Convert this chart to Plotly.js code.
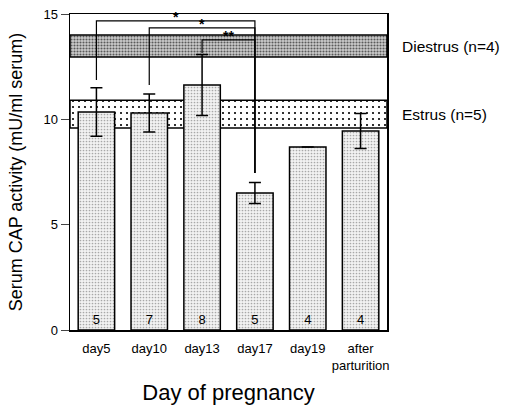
<!DOCTYPE html>
<html>
<head>
<meta charset="utf-8">
<script src="https://cdn.plot.ly/plotly-3.0.1.min.js"></script>
<style>html,body{margin:0;padding:0;background:#fff;}#chart{width:505px;height:416px;}</style>
</head>
<body>
<div id="chart"></div>
<script>
// ---- data ----
const categories = ['day5', 'day10', 'day13', 'day17', 'day19', 'after<br>parturition'];
const meanActivity = [10.35, 10.30, 11.63, 6.50, 8.69, 9.45];
const errActivity = [1.15, 0.90, 1.45, 0.50, null, 0.83];
const nCounts = ['5', '7', '8', '5', '4', '4'];

const cycleStages = ['Diestrus (n=4)', 'Estrus (n=5)'];
const cycleMean = [13.48, 10.25];
const cycleSd = [0.52, 0.66];

const bracketFrom = ['day5', 'day10', 'day13'];
const bracketTo = 'day17';
const bracketFromBase = [11.87, 11.63, 13.15];
const bracketToBase = 7.45;
const bracketHeights = [14.67, 14.34, 13.77];
const bracketLabels = ['*', '*', '**'];

// ---- build ----
const FONT = '"Liberation Sans", Arial, Helvetica, sans-serif';
const xlo = -0.5, xhi = categories.length - 0.5;
const stageStyles = [
  {shape: '.', bgcolor: '#cdcdcd', fgcolor: '#5a5a5a', size: 3, solidity: 0.4},
  {shape: '.', bgcolor: '#ffffff', fgcolor: '#000000', size: 6, solidity: 0.1}
];

const traces = [];
cycleStages.forEach((s, i) => {
  const lo = cycleMean[i] - cycleSd[i], hi = cycleMean[i] + cycleSd[i];
  traces.push({
    type: 'scatter', mode: 'lines', name: s, xaxis: 'x', yaxis: 'y',
    x: [xlo, xhi, xhi, xlo, xlo], y: [lo, lo, hi, hi, lo],
    fill: 'toself', fillcolor: stageStyles[i].bgcolor,
    fillpattern: stageStyles[i],
    line: {color: '#000', width: 1.5}, hoverinfo: 'skip', showlegend: false
  });
});

traces.push({
  type: 'bar', xaxis: 'x2', yaxis: 'y',
  x: categories, y: meanActivity,
  marker: {
    color: '#efefef',
    pattern: {shape: '.', bgcolor: '#f2f2f2', fgcolor: '#a8a8a8', size: 3, solidity: 0.25},
    line: {color: '#000', width: 1.5}
  },
  error_y: {type: 'data', array: errActivity, visible: true, color: '#000', thickness: 1.5, width: 6},
  text: nCounts, textposition: 'inside', insidetextanchor: 'start', textangle: 0,
  insidetextfont: {family: FONT, size: 13, color: '#000'},
  showlegend: false
});

bracketFrom.forEach((c, i) => {
  traces.push({
    type: 'scatter', mode: 'lines', xaxis: 'x2', yaxis: 'y',
    x: [c, c, bracketTo, bracketTo],
    y: [bracketFromBase[i], bracketHeights[i], bracketHeights[i], bracketToBase],
    line: {color: '#000', width: 1.2}, hoverinfo: 'skip', showlegend: false
  });
});

const annotations = [];
bracketFrom.forEach((c, i) => {
  const a = categories.indexOf(c), b = categories.indexOf(bracketTo);
  annotations.push({
    xref: 'x', yref: 'y', x: (a + b) / 2, y: bracketHeights[i], yanchor: 'bottom',
    text: '<b>' + bracketLabels[i] + '</b>', showarrow: false, yshift: -6,
    font: {family: FONT, size: 14, color: '#000'}
  });
});
cycleStages.forEach((s, i) => {
  annotations.push({
    xref: 'paper', yref: 'y', x: 1, xanchor: 'left', xshift: 13, y: cycleMean[i],
    text: s, showarrow: false, font: {family: FONT, size: 15.5, color: '#000'}
  });
});

const layout = {
  width: 505, height: 416,
  margin: {l: 70, r: 118, t: 14, b: 86},
  paper_bgcolor: '#fff', plot_bgcolor: '#fff',
  font: {family: FONT, color: '#000'},
  bargap: 0.31,
  showlegend: false,
  xaxis: {type: 'linear', range: [xlo, xhi], visible: false, fixedrange: true},
  xaxis2: {
    type: 'category', overlaying: 'x', side: 'bottom', range: [xlo, xhi],
    categoryorder: 'array', categoryarray: categories,
    showline: true, mirror: true, linecolor: '#000', linewidth: 1.5,
    ticks: '', showgrid: false, tickfont: {family: FONT, size: 13, color: '#000'},
    ticklabelstandoff: 6,
    title: {text: 'Day of pregnancy', font: {family: FONT, size: 22, color: '#000'}, standoff: 12}
  },
  yaxis: {
    range: [0, 15], tickvals: [0, 5, 10, 15], ticks: 'outside', ticklen: 8, tickwidth: 1,
    showline: true, mirror: true, linecolor: '#000', linewidth: 1.5,
    showgrid: false, zeroline: false, tickfont: {family: FONT, size: 13, color: '#000'},
    title: {text: 'Serum CAP activity (mU/ml serum)', font: {family: FONT, size: 18, color: '#000'}, standoff: 16}
  },
  annotations: annotations
};

Plotly.newPlot('chart', traces, layout, {displayModeBar: false, staticPlot: true});
</script>
</body>
</html>
